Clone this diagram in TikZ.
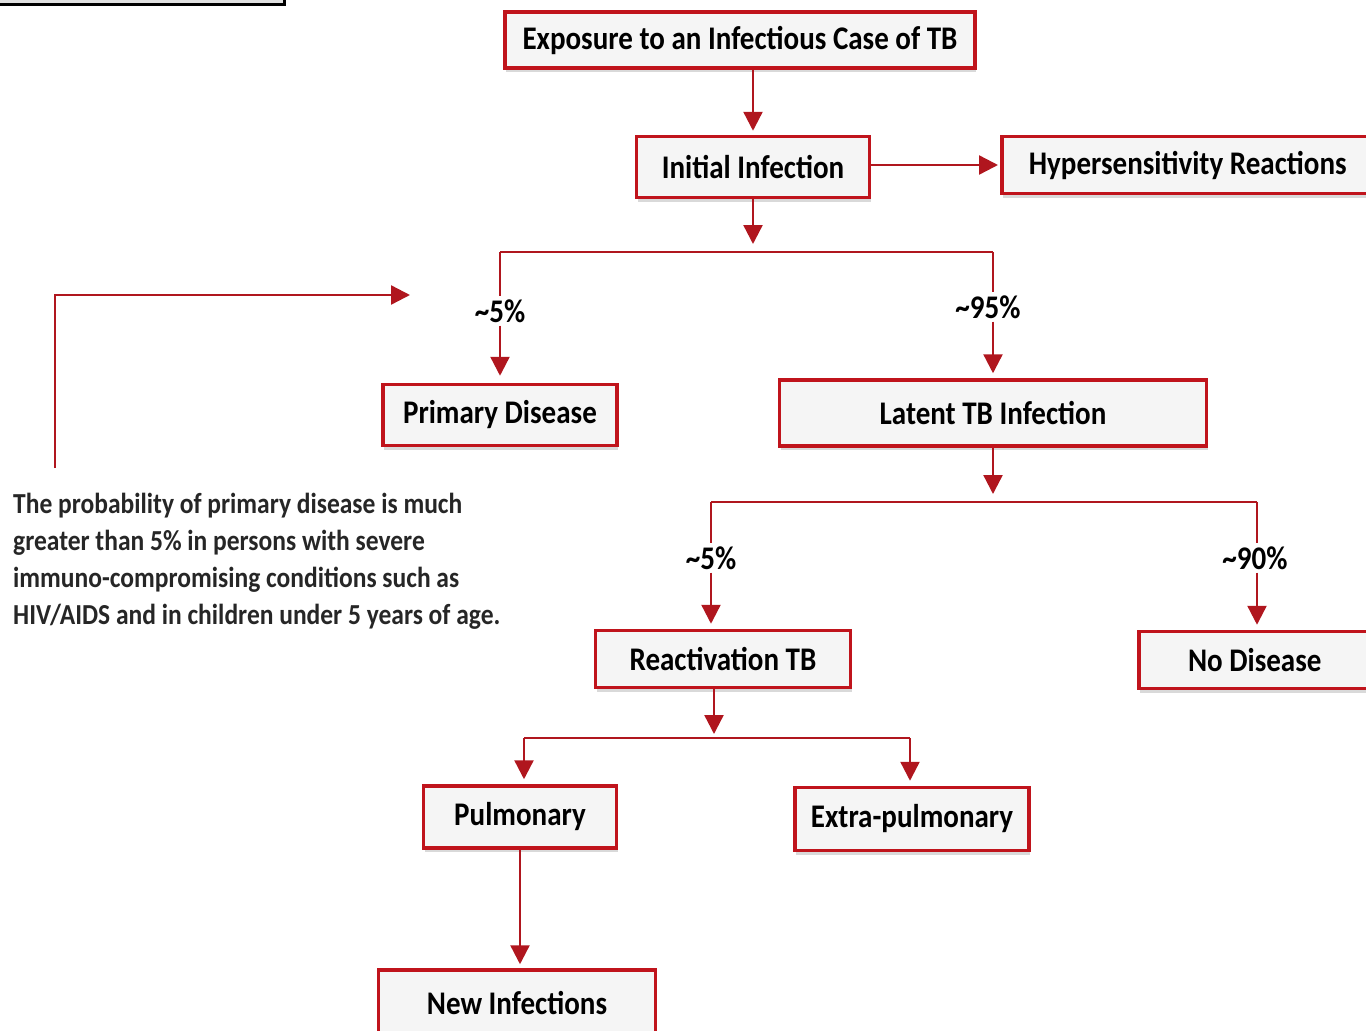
\documentclass[tikz,border=0pt]{standalone}
\usepackage{fontspec}
\setmainfont{Carlito}
\newfontfamily\tbfont[FakeStretch=0.88]{Carlito}
\usetikzlibrary{arrows.meta,shadows}
\definecolor{tbred}{HTML}{C0141C}
\definecolor{tbline}{HTML}{B0161E}
\definecolor{tbfill}{HTML}{F5F5F5}
\tikzset{
  tbbox/.style={draw=tbred, line width=3.5pt, fill=tbfill, inner sep=0pt,
    font=\tbfont\fontsize{33}{36}\selectfont\bfseries,
    drop shadow={shadow xshift=1pt, shadow yshift=-4pt, opacity=0.3}},
  pct/.style={font=\tbfont\fontsize{33}{36}\selectfont\bfseries, inner sep=3pt},
  link/.style={draw=tbline, line width=2.4pt},
  arr/.style={link, -{Triangle[length=19pt,width=19pt]}}
}
\begin{document}
\begin{tikzpicture}[x=1pt,y=-1pt]
  \useasboundingbox (0,0) rectangle (1366,1031);
  % corner box, cut off by the border
  \draw[line width=3pt, fill=black!12] (-10,-20) rectangle (284,4);
  % boxes
  \node[tbbox, minimum width=470pt, minimum height=56pt] (expo) at (740,40) {Exposure to an Infectious Case of TB};
  \node[tbbox, minimum width=233pt, minimum height=61pt] (init) at (753,167) {Initial Infection};
  \node[tbbox, minimum width=372pt, minimum height=57pt, anchor=west] (hyper) at (1000,165) {Hypersensitivity Reactions};
  \node[tbbox, minimum width=234pt, minimum height=61pt] (prim) at (500,415) {Primary Disease};
  \node[tbbox, minimum width=427pt, minimum height=66pt] (latent) at (993,413) {Latent TB Infection};
  \node[tbbox, minimum width=255pt, minimum height=57pt] (react) at (723,659) {Reactivation TB};
  \node[tbbox, minimum width=232pt, minimum height=57pt, anchor=west] (nodis) at (1137,660) {No Disease};
  \node[tbbox, minimum width=193pt, minimum height=62pt] (pulm) at (520,817) {Pulmonary};
  \node[tbbox, minimum width=234pt, minimum height=63pt] (extra) at (912,819) {Extra-pulmonary};
  \node[tbbox, minimum width=277pt, minimum height=70pt] (newinf) at (517,1005) {\raisebox{4pt}{New Infections}};
  % percent labels
  \node[pct] (pa) at (500,311) {\textasciitilde 5\%};
  \node[pct] (pb) at (988,307) {\textasciitilde 95\%};
  \node[pct] (pc) at (711,558) {\textasciitilde 5\%};
  \node[pct] (pd) at (1255,558) {\textasciitilde 90\%};
  % note
  \node[anchor=north west, align=left, inner sep=0pt,
    font=\tbfont\fontsize{29}{37}\selectfont\bfseries\color{black!85}] (note) at (13,493)
    {The probability of primary disease is much\\
     greater than 5\% in persons with severe\\
     immuno-compromising conditions such as\\
     HIV/AIDS and in children under 5 years of age.};
  % junctions
  \coordinate (j1) at (753,244);
  \coordinate (j1l) at (500,252);
  \coordinate (j1r) at (993,252);
  \coordinate (j2) at (993,494);
  \coordinate (j2l) at (711,502);
  \coordinate (j2r) at (1257,502);
  \coordinate (j3) at (714,734);
  \coordinate (j3l) at (524,738);
  \coordinate (j3r) at (910,738);
  \coordinate (nstart) at (55,468);
  \coordinate (nend) at (410,295);
  % connectors
  \draw[arr] (expo.south -| init.north) -- ([yshift=4pt]init.north);
  \draw[arr] (init.east |- hyper.west) -- ([xshift=-2pt]hyper.west);
  \draw[arr] (init.south) -- (j1);
  \draw[link] (j1l) -- (j1r);
  \draw[link] (j1l) -- (pa.north -| j1l);
  \draw[arr] (pa.south -| j1l) -- ([yshift=7pt]prim.north);
  \draw[link] (j1r) -- (pb.north -| j1r);
  \draw[arr] (pb.south -| j1r) -- ([yshift=5pt]latent.north);
  \draw[arr] (latent.south) -- (j2);
  \draw[link] (j2l) -- (j2r);
  \draw[link] (j2l) -- (pc.north -| j2l);
  \draw[arr] (pc.south -| j2l) -- ([yshift=5pt]react.north -| j2l);
  \draw[link] (j2r) -- (pd.north -| j2r);
  \draw[arr] (pd.south -| j2r) -- ([yshift=5pt]nodis.north -| j2r);
  \draw[arr] (react.south -| j3) -- (j3);
  \draw[link] (j3l) -- (j3r);
  \draw[arr] (j3l) -- ([yshift=5pt]pulm.north -| j3l);
  \draw[arr] (j3r) -- ([yshift=5pt]extra.north -| j3r);
  \draw[arr] (pulm.south) -- ([yshift=4pt]newinf.north -| pulm.south);
  \draw[arr] (nstart) |- (nend);
\end{tikzpicture}
\end{document}
